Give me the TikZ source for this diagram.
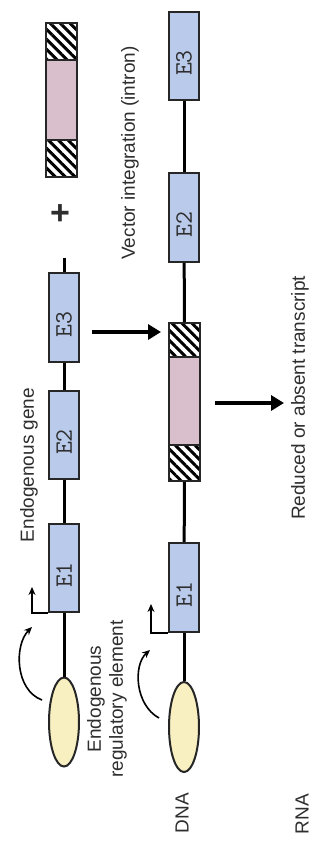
\documentclass[tikz,border=0pt]{standalone}
\usepackage{fontspec}
\setmainfont{Liberation Sans}
\usetikzlibrary{patterns.meta,arrows.meta,shapes.geometric}
\definecolor{exonblue}{HTML}{BACAEA}
\definecolor{vecpink}{HTML}{D9BFCC}
\definecolor{promyellow}{HTML}{F8F0C0}
\definecolor{edge}{HTML}{262626}
\definecolor{txt}{HTML}{2E2E2E}
\begin{document}
\begin{tikzpicture}[x=1pt,y=-1pt,
 exon/.style={draw=edge,line width=2pt,fill=exonblue,rotate=90,minimum height=30pt,inner sep=0pt,font=\ttfamily\fontsize{25}{25}\selectfont,text=txt},
 pinkbox/.style={draw=edge,line width=2pt,fill=vecpink,minimum width=31pt,inner sep=0pt},
 hatchbox/.style={draw=edge,line width=2pt,minimum width=31pt,inner sep=0pt,pattern={Lines[angle=-45,distance=7pt,line width=3pt]},pattern color=black},
 prom/.style={draw=edge,line width=2pt,fill=promyellow,ellipse,minimum width=30pt,minimum height=89pt,inner sep=0pt},
 dna/.style={line width=3pt,draw=black},
 bigarrow/.style={line width=4pt,-{Triangle[length=13pt,width=15pt]}},
 tss/.style={line width=1.8pt,-{Stealth[length=8pt,width=7pt]}},
 curv/.style={line width=1.6pt,-{Stealth[length=8pt,width=7pt]}},
 lbl/.style={rotate=90,font=\fontsize{19}{22}\selectfont,text=txt,inner sep=0pt}
]
\useasboundingbox[fill=white] (0,0) rectangle (320,854);

% vector (top left)
\node[hatchbox,minimum height=37pt] (h1v) at (61.5,41.5) {};
\node[pinkbox,minimum height=80pt] (pkv) at (61.5,100) {};
\node[hatchbox,minimum height=37pt] (h2v) at (61.5,158.5) {};
\node[font=\bfseries\fontsize{34}{34}\selectfont,text=txt] (plus) at (60,215) {+};

% column 1: endogenous gene
\coordinate (stubA) at (64,258);
\node[exon,minimum width=89pt] (e3a) at (64,317.5) {E3\kern14pt};
\node[exon,minimum width=88pt] (e2a) at (64,435) {E2\kern14pt};
\node[exon,minimum width=88pt] (e1a) at (64,568) {E1\kern14pt};
\node[prom] (pa) at (64,722) {};
\draw[dna] (stubA) -- (e3a);
\draw[dna] (e3a) -- (e2a);
\draw[dna] (e2a) -- (e1a);
\draw[dna] (e1a) -- (pa);
\draw[tss] (e1a.north west) -- ++(-16,0) -- ++(0,-26);
\coordinate (ca1s) at (42,700);
\coordinate (ca1e) at (32,627);
\draw[curv] (ca1s) .. controls (15,690) and (14,645) .. (ca1e);

% column 2: after integration
\node[exon,minimum width=88pt] (e3b) at (184,56) {E3\kern14pt};
\node[exon,minimum width=89pt] (e2b) at (184,217.5) {E2\kern14pt};
\node[hatchbox,minimum height=34pt] (h1b) at (184.5,340) {};
\node[pinkbox,minimum height=88pt] (pkb) at (184.5,401) {};
\node[hatchbox,minimum height=36pt] (h2b) at (184.5,463) {};
\node[exon,minimum width=89pt] (e1b) at (184,587.5) {E1\kern14pt};
\node[prom,minimum height=90pt] (pb) at (184,727) {};
\draw[dna] (e3b) -- (e2b);
\draw[dna] (e2b) -- (h1b);
\draw[dna] (h2b) -- (e1b);
\draw[dna] (e1b) -- (pb);
\draw[tss] (e1b.north west) -- ++(-17,0) -- ++(0,-29);
\coordinate (ca2s) at (159,718);
\coordinate (ca2e) at (150,650);
\draw[curv] (ca2s) .. controls (135,705) and (133,665) .. (ca2e);

% big arrows
\coordinate (a1s) at (92,332);
\coordinate (a1e) at (161,332);
\draw[bigarrow] (a1s) -- (a1e);
\coordinate (a2s) at (215,403);
\coordinate (a2e) at (284,403);
\draw[bigarrow] (a2s) -- (a2e);

% labels
\node[lbl] (vtext) at (130,153) {Vector integration (intron)};
\node[lbl] (gtext) at (29,465) {Endogenous gene};
\node[lbl,align=center] (regtext) at (107,699) {Endogenous\\regulatory element};
\node[lbl] (rtext) at (300,398) {Reduced or absent transcript};
\node[lbl] (dnatext) at (182,813) {DNA};
\node[lbl] (rnatext) at (302,814) {RNA};
\end{tikzpicture}
\end{document}
